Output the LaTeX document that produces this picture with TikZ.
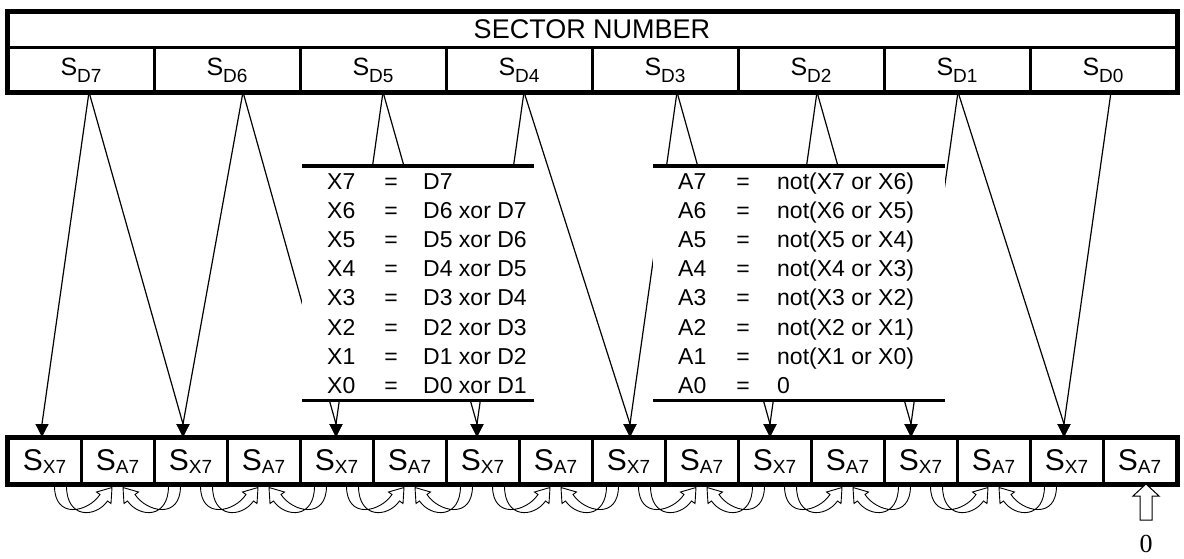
\documentclass[tikz,border=0pt]{standalone}
\usepackage{fontspec}
\setmainfont{Liberation Sans}
\newfontfamily\serifzero{Liberation Serif}
\usetikzlibrary{arrows.meta}
\newcommand\topS[1]{{\fontsize{25}{25}\selectfont S}\raisebox{-7pt}{\fontsize{19}{19}\selectfont #1}}
\newcommand\botS[1]{{\fontsize{30}{30}\selectfont S}\raisebox{-3.5pt}{\fontsize{19}{19}\selectfont #1}}
\begin{document}
\begin{tikzpicture}[x=1pt,y=-1pt,
  topcell/.style={draw, line width=3pt, minimum width=146pt, minimum height=44pt, inner sep=0pt, text height=12pt, text depth=0pt},
  botcell/.style={draw, line width=3pt, minimum width=73pt, minimum height=45pt, inner sep=0pt, text height=18pt, text depth=0pt},
  conn/.style={line width=1.2pt, -{Triangle[length=13pt,width=13pt]}},
  bar/.style={line width=3.5pt},
  eqn/.style={inner sep=0pt, font=\fontsize{23}{23}\selectfont},
  panel/.style={fill=white, inner sep=0pt, minimum height=234pt, anchor=north west},
  bendarrow/.pic={\draw[line width=0.9pt, line join=miter]
     (-63,486) .. controls (-63,520) and (-29,512) .. (-17.5,494.5)
     -- (-21,492) -- (-5.5,487.5) -- (-6.5,503.5) -- (-10,501)
     .. controls (-22,518) and (-51,519) .. (-51,486);}
]
\useasboundingbox (0,0) rectangle (1184,558);

% connector end points
\foreach \n/\x in {7/89,6/243,5/383,4/524,3/677,2/817,1/958,0/1111}
  \coordinate (ap\n) at (\x,92);
\foreach \k/\x in {0/42,2/183,4/336,6/477,8/630,10/770,12/911,14/1064}{
  \coordinate (tip\k) at (\x,437);
  \coordinate (bs\k) at (\x,424);
}
\foreach \n/\k in {7/0,7/2,6/2,6/4,5/4,5/6,4/6,4/8,3/8,3/10,2/10,2/12,1/12,1/14,0/14}
  \draw[conn] (ap\n) -- (bs\k) -- (tip\k);

% equation panels
\node[panel, minimum width=232pt] (xbox) at (302,166) {};
\node[panel, minimum width=292pt] (abox) at (653,166) {};
\draw[bar] (xbox.north west) -- (xbox.north east);
\draw[bar] (xbox.south west) -- (xbox.south east);
\draw[bar] (abox.north west) -- (abox.north east);
\draw[bar] (abox.south west) -- (abox.south east);

\foreach \i/\l/\r in {0/X7/D7,1/X6/D6 xor D7,2/X5/D5 xor D6,3/X4/D4 xor D5,4/X3/D3 xor D4,5/X2/D2 xor D3,6/X1/D1 xor D2,7/X0/D0 xor D1}{
  \node[eqn, anchor=base west] (xl\i) at (327,189.3+29.14*\i) {\l};
  \node[eqn, anchor=base] (xe\i) at (391,189.3+29.14*\i) {=};
  \node[eqn, anchor=base west] (xr\i) at (423,189.3+29.14*\i) {\r};
}
\foreach \i/\l/\r in {0/A7/not(X7 or X6),1/A6/not(X6 or X5),2/A5/not(X5 or X4),3/A4/not(X4 or X3),4/A3/not(X3 or X2),5/A2/not(X2 or X1),6/A1/not(X1 or X0),7/A0/0}{
  \node[eqn, anchor=base west] (al\i) at (678,189.3+29.14*\i) {\l};
  \node[eqn, anchor=base] (ae\i) at (743,189.3+29.14*\i) {=};
  \node[eqn, anchor=base west] (ar\i) at (777,189.3+29.14*\i) {\r};
}

% top register
\node[draw, line width=3pt, minimum width=1168pt, minimum height=35pt, inner sep=0pt,
      font=\fontsize{27}{27}\selectfont] (title) at (592,29.5) {SECTOR NUMBER};
\foreach \n [count=\j from 0] in {7,6,5,4,3,2,1,0}
  \node[topcell] (sd\n) at (81+146*\j,69) {\topS{D\n}};
\draw[line width=4pt] (title.north west) rectangle (sd0.south east);

% bottom register
\foreach \j in {0,...,7}{
  \node[botcell] (bx\the\numexpr2*\j\relax) at (44.5+146*\j,461) {\botS{X7}};
  \node[botcell] (bx\the\numexpr2*\j+1\relax) at (117.5+146*\j,461) {\botS{A7}};
}
\draw[line width=4pt] (bx0.north west) rectangle (bx15.south east);

% curved hollow arrows
\foreach \c in {117.5,263.5,409.5,555.5,701.5,847.5,993.5}{
  \pic at (\c,0) {bendarrow};
  \pic[xscale=-1] at (\c,0) {bendarrow};
}

% constant zero input
\draw[line width=1pt, fill=white] (1140,520) -- (1140,496) -- (1133,496) -- (1146,484)
  -- (1159,496) -- (1152,496) -- (1152,520) -- cycle;
\node[inner sep=0pt, anchor=base, font=\serifzero\fontsize{26}{26}\selectfont] (zero) at (1146,552) {0};
\end{tikzpicture}
\end{document}
